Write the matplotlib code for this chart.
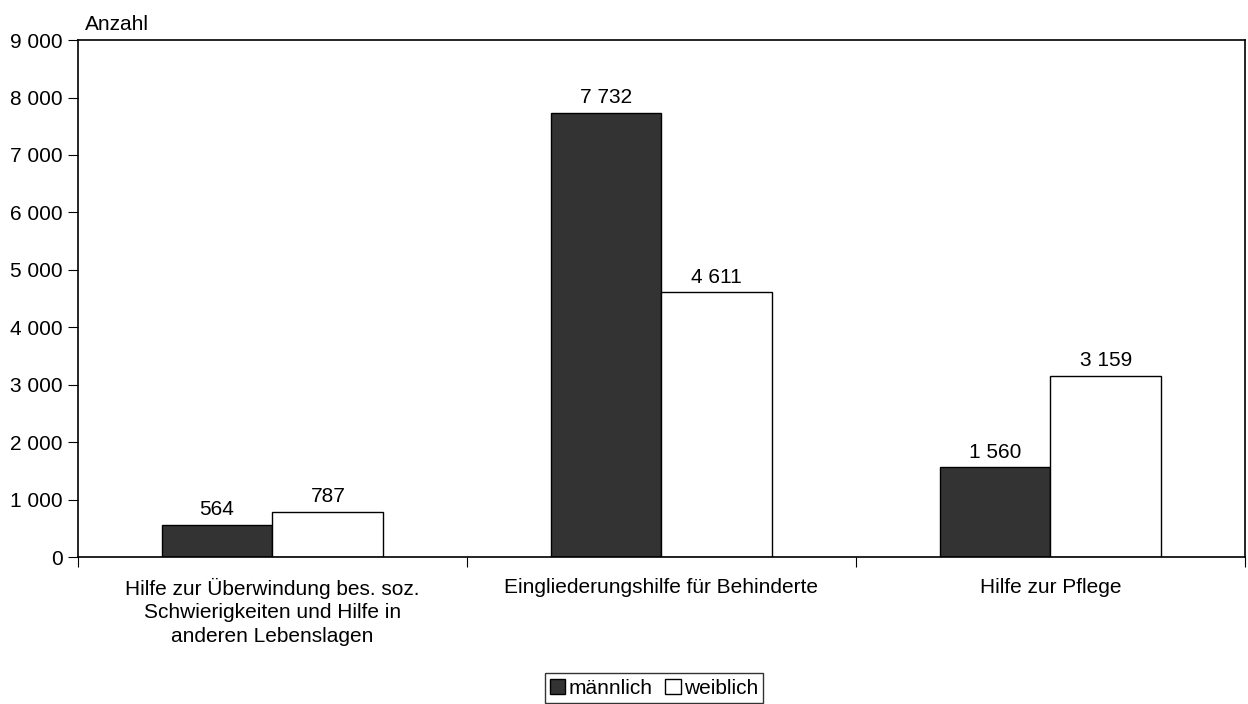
import matplotlib
matplotlib.use("Agg")
import matplotlib.pyplot as plt
import numpy as np
from matplotlib.ticker import FuncFormatter

plt.rcParams['font.family'] = ['Liberation Sans', 'DejaVu Sans']

categories = ["Hilfe zur Überwindung bes. soz.\nSchwierigkeiten und Hilfe in\nanderen Lebenslagen",
              "Eingliederungshilfe für Behinderte",
              "Hilfe zur Pflege"]
maennlich = [564, 7732, 1560]
weiblich = [787, 4611, 3159]
series_names = ["männlich", "weiblich"]
yticks = list(range(0, 9001, 1000))

FS = 15

def fmt(v):
    return f"{int(v):,}".replace(",", " ")

fig = plt.figure(figsize=(12.48, 7.04), dpi=100)
ax = fig.add_axes([0.0625, 0.2088, 0.935, 0.7342])

x = np.arange(len(categories))
w = 0.285
b1 = ax.bar(x - w/2, maennlich, w, color='#333333', edgecolor='black', linewidth=1, label=series_names[0])
b2 = ax.bar(x + w/2, weiblich, w, color='white', edgecolor='black', linewidth=1, label=series_names[1])

for bars, vals in ((b1, maennlich), (b2, weiblich)):
    for r, v in zip(bars, vals):
        ax.annotate(fmt(v), (r.get_x() + r.get_width()/2, v), xytext=(0, 4),
                    textcoords='offset points', ha='center', va='bottom', fontsize=FS)

ax.set_xlim(-0.5, len(categories) - 0.5)
ax.set_ylim(0, 9000)
ax.set_yticks(yticks)
ax.yaxis.set_major_formatter(FuncFormatter(lambda v, p: fmt(v)))
ax.tick_params(axis='y', direction='out', length=7, labelsize=FS, pad=4)

ax.set_xticks(np.arange(-0.5, len(categories), 1.0))
ax.set_xticklabels([])
ax.tick_params(axis='x', which='major', direction='out', length=7)
ax.set_xticks(x, minor=True)
ax.set_xticklabels(categories, minor=True, fontsize=FS, linespacing=1.3)
ax.tick_params(axis='x', which='minor', length=0, pad=15)

for s in ax.spines.values():
    s.set_linewidth(1.2)

ax.text(0.006, 1.012, "Anzahl", transform=ax.transAxes, ha='left', va='bottom', fontsize=FS)

leg = fig.legend(loc='center', bbox_to_anchor=(0.524, 0.0227), ncol=2, fontsize=FS, frameon=True,
                 fancybox=False, edgecolor='black', handlelength=0.75, handleheight=0.75,
                 handletextpad=0.15, columnspacing=0.6, borderpad=0.25, borderaxespad=0)
leg.get_frame().set_linewidth(1)

fig.savefig("out.png", dpi=100)
